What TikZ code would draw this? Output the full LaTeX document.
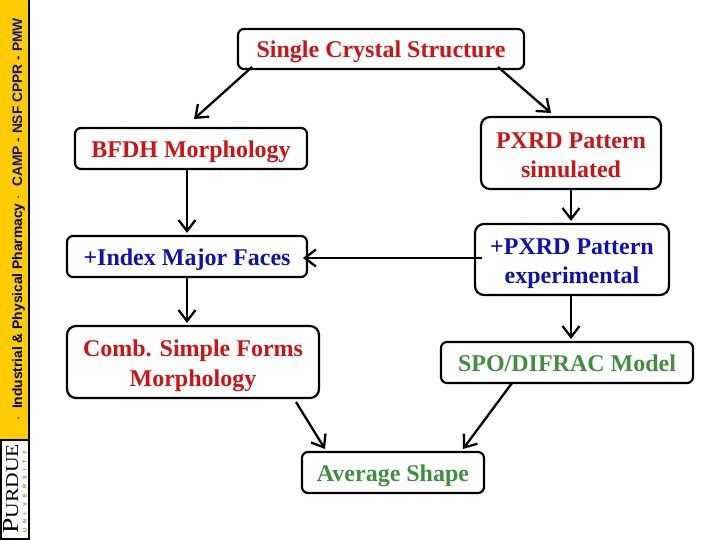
\documentclass[tikz,border=0pt]{standalone}
\usepackage{fontspec}
\usepackage{xcolor}
\usetikzlibrary{arrows.meta}
\setmainfont{Liberation Serif}
\newfontfamily\barfont{Liberation Sans}
\definecolor{band}{HTML}{FFCC00}
\definecolor{redtx}{HTML}{CC1414}
\definecolor{bluetx}{HTML}{1010B4}
\definecolor{greentx}{HTML}{3F8F3F}
\definecolor{navy}{HTML}{141478}
\definecolor{tan}{HTML}{9A7A30}
\newcommand{\nudge}[1]{\rule{0pt}{#1pt}}
\tikzset{
  stage/.style={draw=black, line width=2.2pt, rounded corners=6pt, inner sep=0pt, align=center, font=\bfseries\fontsize{24}{29.5}\selectfont},
  oneline/.style={stage, text height=20pt, text depth=2pt},
  twoline/.style={stage, rounded corners=9pt},
  link/.style={draw=black, line width=2.3pt, shorten >=2pt, -{Straight Barb[length=11pt,width=17pt,line width=2.3pt]}},
  bartx/.style={rotate=90, font=\barfont\bfseries\fontsize{13.8}{16}\selectfont},
}
\begin{document}
\begin{tikzpicture}[x=1pt,y=-1pt]
  \useasboundingbox (0,0) rectangle (720,540);
  % side band and logo
  \fill[band] (0,0) rectangle (29,440);
  \draw[black, line width=2pt] (29,0) -- (29,539.3) -- (0.7,539.3) -- (0.7,440) -- (29,440);
  \node[bartx, text=black, anchor=base west, inner sep=0pt] (bandA) at (22,421) {$\cdot$\hskip4pt{} Industrial \& Physical Pharmacy $\cdot$};
  \node[bartx, text=navy, anchor=base east, inner sep=0pt] (bandB) at (22,18) {CAMP - NSF CPPR - PMW};
  \node[rotate=90, xscale=1.2, anchor=base west, inner sep=0pt, font=\fontsize{23}{25}\selectfont] (logoA) at (18,534) {P\fontsize{18}{20}\selectfont URDUE};
  \node[rotate=90, anchor=base west, inner sep=0pt, text=tan, font=\barfont\bfseries\fontsize{5.5}{6}\selectfont] (logoB) at (26.5,533) {U\hskip5.3pt N\hskip5.3pt I\hskip6pt V\hskip5.3pt E\hskip5.3pt R\hskip5.3pt S\hskip5.3pt I\hskip6pt T\hskip5.3pt Y};
  % boxes
  \node[oneline, text=redtx, minimum width=286pt, minimum height=40pt] (crystal) at (381,49) {Single Crystal Structure};
  \node[oneline, text=redtx, minimum width=232pt, minimum height=41pt] (bfdh) at (191,148.5) {BFDH Morphology};
  \node[twoline, text=redtx, minimum width=180pt, minimum height=72pt] (simul) at (571,153) {\nudge{20}PXRD Pattern\\simulated};
  \node[oneline, text=bluetx, minimum width=240pt, minimum height=41pt] (index) at (187,256.5) {+Index Major Faces};
  \node[twoline, text=bluetx, minimum width=194pt, minimum height=71pt] (exper) at (572,259.5) {\nudge{24}+PXRD Pattern\\experimental};
  \node[twoline, text=redtx, minimum width=252pt, minimum height=72pt] (forms) at (193,362) {\nudge{24}Comb. Simple Forms\\Morphology};
  \node[oneline, text=greentx, minimum width=252pt, minimum height=41pt] (spo) at (567,362.5) {SPO/DIFRAC Model};
  \node[oneline, text=greentx, minimum width=182pt, minimum height=41pt] (shape) at (393,472.5) {Average Shape};
  % free ends of the slanted arrows
  \coordinate (crystalL) at (252,67);
  \coordinate (bfdhTop) at (194,119);
  \coordinate (crystalR) at (498,67);
  \coordinate (simulTop) at (551,113);
  \coordinate (formsOut) at (296,402);
  \coordinate (shapeL) at (325,449);
  \coordinate (spoOut) at (512,383);
  \coordinate (shapeR) at (463,449);
  \coordinate (experOut) at (482,258);
  \coordinate (indexIn) at (303,258);
  % arrows
  \draw[link, shorten >=0pt] (crystalL) -- (bfdhTop);
  \draw[link, shorten >=0pt] (crystalR) -- (simulTop);
  \draw[link] (bfdh.south -| index.south) -- (index.north);
  \draw[link] (simul.south) -- (simul.south |- exper.north);
  \draw[link, shorten >=0pt] (experOut) -- (indexIn);
  \draw[link] (index.south) -- (index.south |- forms.north);
  \draw[link] (exper.south -| simul.south) -- (simul.south |- spo.north);
  \draw[link, shorten >=0pt] (formsOut) -- (shapeL);
  \draw[link, shorten >=0pt] (spoOut) -- (shapeR);
\end{tikzpicture}
\end{document}
